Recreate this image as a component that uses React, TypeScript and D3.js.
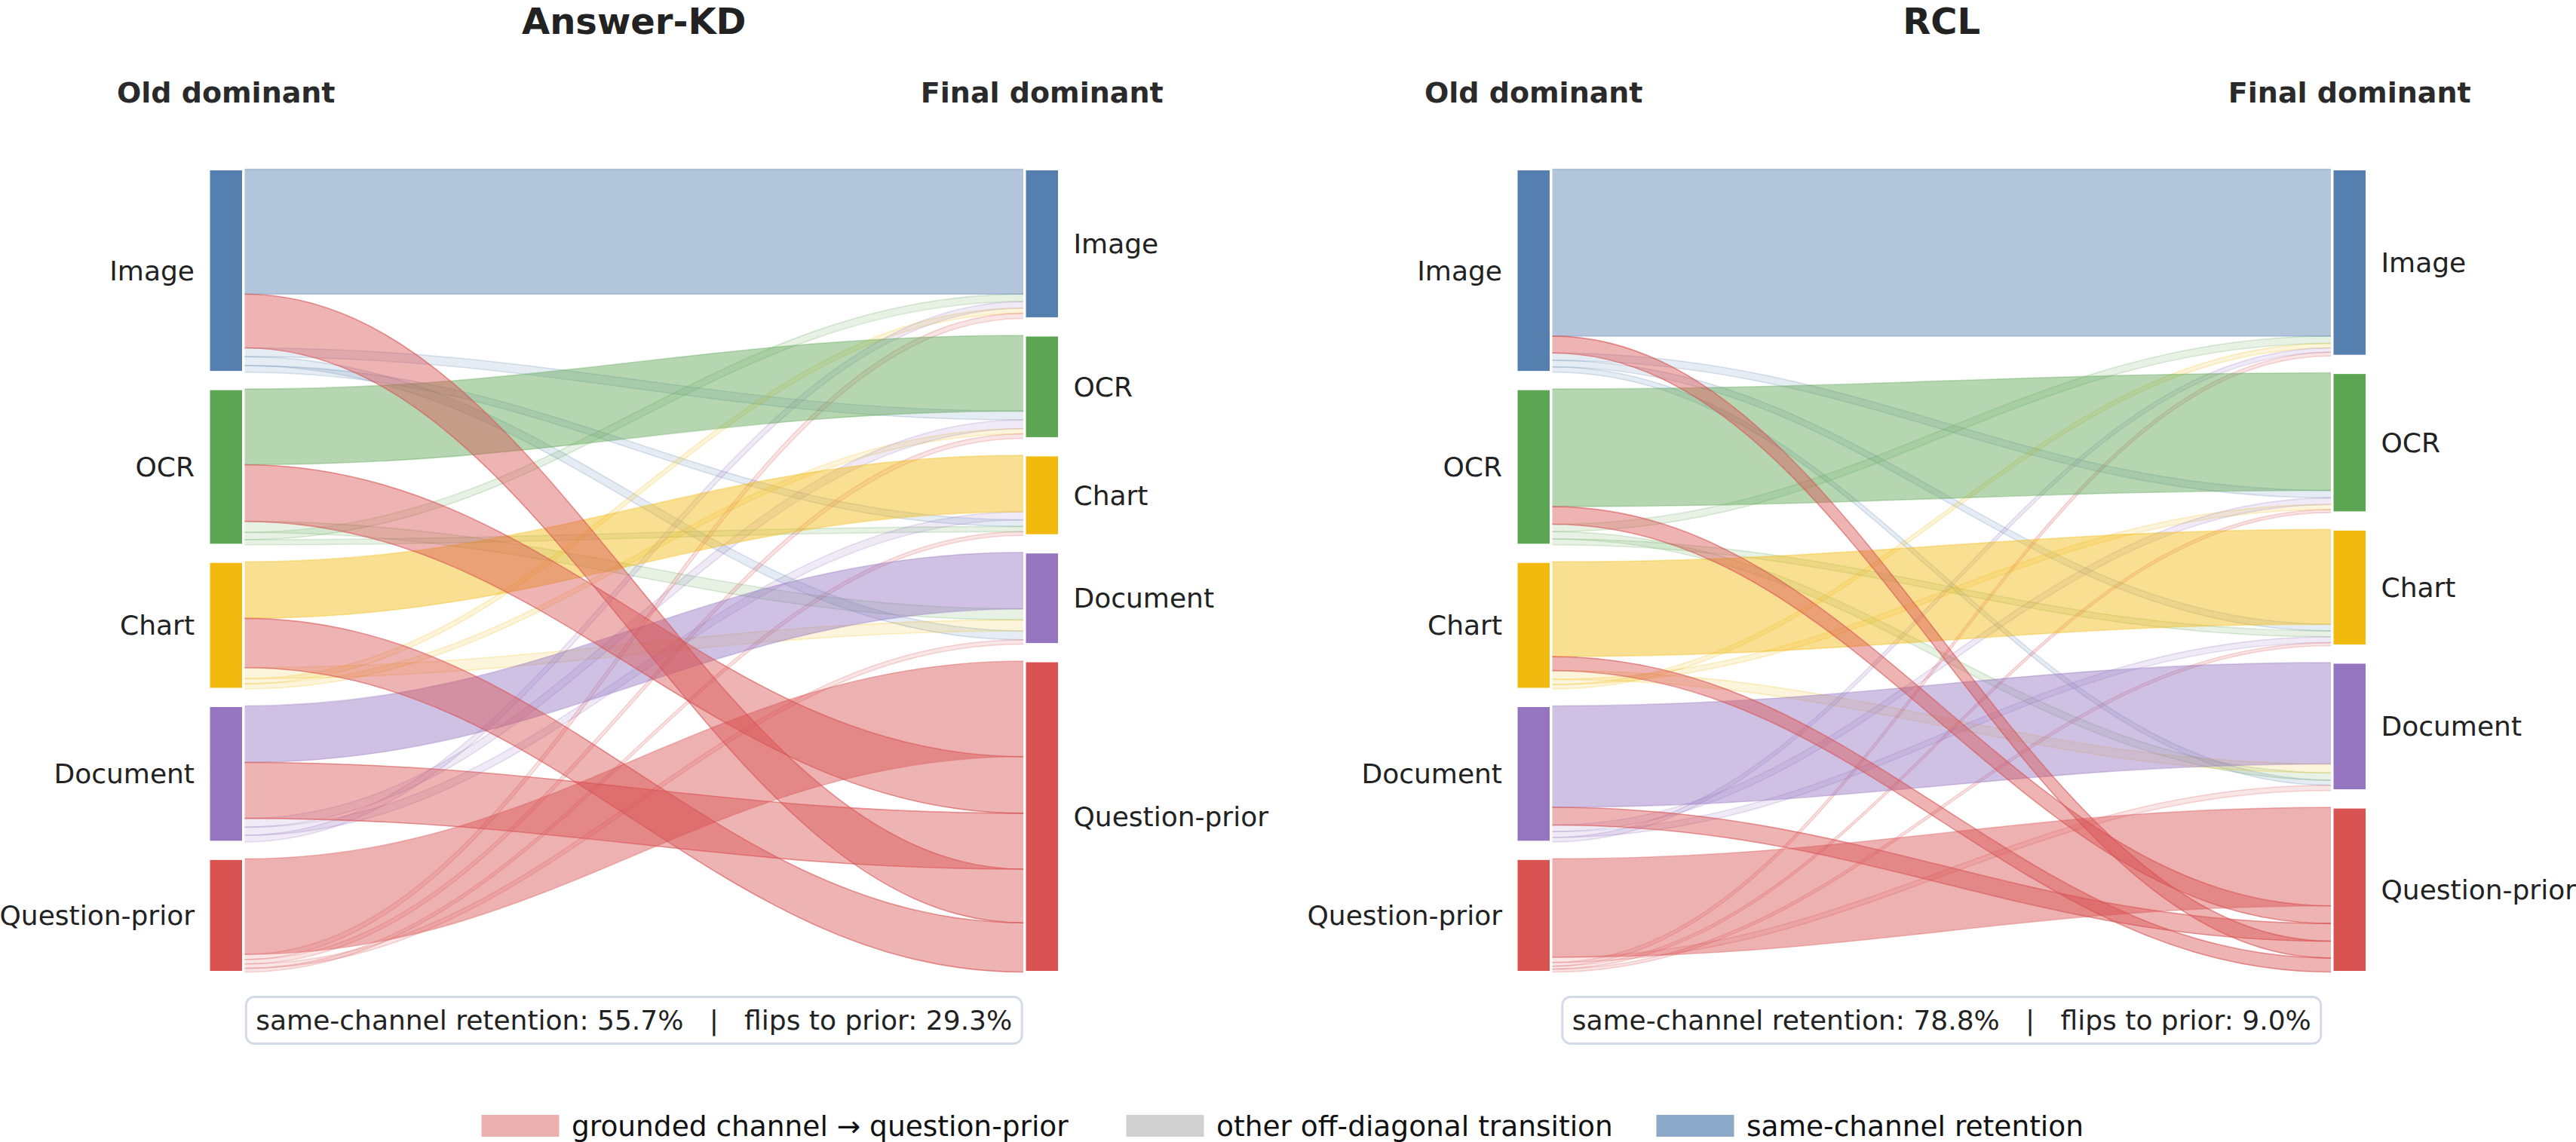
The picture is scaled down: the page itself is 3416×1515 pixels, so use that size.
import React from 'react';
import * as d3 from 'd3';

// ---------------- data ----------------
const CHANNELS = ['Image', 'OCR', 'Chart', 'Document', 'Question-prior'];
const CHANNEL_COLORS = ['#557fae', '#5ba553', '#f2b90e', '#9575c0', '#d95353'];
const PANEL_TITLES = ['Answer-KD', 'RCL'];
const COLUMN_HEADERS = ['Old dominant', 'Final dominant'];

// rows: old dominant channel, columns: final dominant channel (% of samples)
const ANSWER_KD_FLOWS = [
  [17.0, 1.2, 0.9, 1.2, 7.3],
  [1.0, 10.3, 0.7, 1.5, 7.7],
  [0.7, 0.7, 7.7, 1.5, 6.7],
  [0.9, 1.2, 1.1, 7.7, 7.6],
  [0.7, 0.6, 0.5, 0.6, 13.0],
];
const RCL_FLOWS = [
  [22.7, 1.0, 0.9, 0.7, 2.3],
  [1.0, 16.0, 0.8, 1.0, 2.4],
  [0.6, 0.7, 12.9, 1.2, 1.9],
  [0.6, 0.9, 0.8, 13.8, 2.4],
  [0.5, 0.4, 0.4, 0.7, 13.4],
];
const PANEL_FLOWS = [ANSWER_KD_FLOWS, RCL_FLOWS];

const LEGEND_LABELS = ['grounded channel \u2192 question-prior', 'other off-diagonal transition', 'same-channel retention'];
const LEGEND_COLORS = ['#ecb0b0', '#d0d0d0', '#8ba8c8'];

// ---------------- layout ----------------
const W = 3416;
const H = 1515;
const FONT = 'DejaVu Sans, Verdana, sans-serif';
const PANEL_OFFSET = 1734;
const SRC_BAR_X = 277;
const TGT_BAR_X = 1359;
const BAR_W = 45.5;
const LINK_X0 = 324.5;
const LINK_X1 = 1357;
const TOP = 224.5;
const BOTTOM = 1289.5;
const PAD = 22.5;
const CURVE = 0.4;
const QP = 4;

function measureText(text: string, font: string): number {
  try {
    const c = document.createElement('canvas');
    const ctx = c.getContext('2d');
    if (!ctx) return text.length * 18;
    ctx.font = font;
    return ctx.measureText(text).width;
  } catch (e) {
    return text.length * 18;
  }
}

type Link = { i: number; j: number; v: number; sy0: number; sy1: number; ty0: number; ty1: number };

function Panel({ idx }: { idx: number }) {
  const flows = PANEL_FLOWS[idx];
  const ox = idx * PANEL_OFFSET;
  const n = CHANNELS.length;
  const srcTotals = flows.map((r) => d3.sum(r));
  const tgtTotals = CHANNELS.map((_, j) => d3.sum(flows, (r) => r[j]));
  const total = d3.sum(srcTotals);
  const y = d3.scaleLinear().domain([0, total]).range([0, BOTTOM - TOP - PAD * (n - 1)]);

  const srcTop: number[] = [];
  const tgtTop: number[] = [];
  let a = TOP;
  srcTotals.forEach((t, i) => { srcTop[i] = a; a += y(t) + PAD; });
  a = TOP;
  tgtTotals.forEach((t, j) => { tgtTop[j] = a; a += y(t) + PAD; });

  const links: Link[] = [];
  flows.forEach((row, i) => row.forEach((v, j) => links.push({ i, j, v, sy0: 0, sy1: 0, ty0: 0, ty1: 0 })));
  for (let i = 0; i < n; i++) {
    let off = srcTop[i];
    links.filter((l) => l.i === i).sort((p, q) => q.v - p.v || p.j - q.j).forEach((l) => {
      l.sy0 = off; off += y(l.v); l.sy1 = off;
    });
  }
  for (let j = 0; j < n; j++) {
    let off = tgtTop[j];
    links.filter((l) => l.j === j).sort((p, q) => q.v - p.v || p.i - q.i).forEach((l) => {
      l.ty0 = off; off += y(l.v); l.ty1 = off;
    });
  }

  const x0 = ox + LINK_X0;
  const x1 = ox + LINK_X1;
  const cx0 = x0 + CURVE * (x1 - x0);
  const cx1 = x1 - CURVE * (x1 - x0);
  const areaPath = (l: Link) => {
    const p = d3.path();
    p.moveTo(x0, l.sy0);
    p.bezierCurveTo(cx0, l.sy0, cx1, l.ty0, x1, l.ty0);
    p.lineTo(x1, l.ty1);
    p.bezierCurveTo(cx1, l.ty1, cx0, l.sy1, x0, l.sy1);
    p.closePath();
    return p.toString();
  };
  const edgePath = (l: Link) => {
    const p = d3.path();
    p.moveTo(x0, l.sy0);
    p.bezierCurveTo(cx0, l.sy0, cx1, l.ty0, x1, l.ty0);
    p.moveTo(x0, l.sy1);
    p.bezierCurveTo(cx0, l.sy1, cx1, l.ty1, x1, l.ty1);
    return p.toString();
  };
  const kind = (l: Link) => (l.i === l.j ? 'diag' : l.j === QP ? 'prior' : 'other');
  const order = { other: 0, diag: 1, prior: 2 } as Record<string, number>;
  const sorted = links.filter((l) => l.v > 0).slice().sort((p, q) => order[kind(p)] - order[kind(q)]);

  const style = (l: Link) => {
    const k = kind(l);
    if (k === 'diag') return { fill: CHANNEL_COLORS[l.i], fo: 0.45, so: 0.35 };
    if (k === 'prior') return { fill: CHANNEL_COLORS[QP], fo: 0.44, so: 0.6 };
    return { fill: CHANNEL_COLORS[l.i], fo: 0.15, so: 0.22 };
  };

  const diagSum = d3.sum(flows, (r, i) => r[i]);
  const priorSum = d3.sum(flows.slice(0, QP), (r) => r[QP]);
  const statText = `same-channel retention: ${((diagSum / total) * 100).toFixed(1)}%   |   flips to prior: ${((priorSum / total) * 100).toFixed(1)}%`;
  const cx = ox + (SRC_BAR_X + TGT_BAR_X + BAR_W) / 2;
  const statW = measureText(statText, `36px ${FONT}`) + 26;

  return (
    <g>
      <text x={cx} y={45} textAnchor="middle" fontSize={48} fontWeight="bold" fill="#222">{PANEL_TITLES[idx]}</text>
      <text x={ox + SRC_BAR_X + BAR_W / 2} y={136} textAnchor="middle" fontSize={38} fontWeight="bold" fill="#2a2a2a">{COLUMN_HEADERS[0]}</text>
      <text x={ox + TGT_BAR_X + BAR_W / 2} y={136} textAnchor="middle" fontSize={38} fontWeight="bold" fill="#2a2a2a">{COLUMN_HEADERS[1]}</text>
      {sorted.map((l, k) => {
        const s = style(l);
        return (
          <g key={k}>
            <path d={areaPath(l)} fill={s.fill} fillOpacity={s.fo} stroke="none" />
            <path d={edgePath(l)} fill="none" stroke={s.fill} strokeOpacity={s.so} strokeWidth={1.6} />
          </g>
        );
      })}
      {CHANNELS.map((c, i) => (
        <g key={'s' + i}>
          <rect x={ox + SRC_BAR_X} y={srcTop[i]} width={BAR_W} height={y(srcTotals[i])} fill={CHANNEL_COLORS[i]} stroke="#fff" strokeWidth={3} />
          <text x={ox + SRC_BAR_X - 19} y={srcTop[i] + y(srcTotals[i]) / 2} textAnchor="end" dominantBaseline="central" fontSize={36} fill="#222">{c}</text>
        </g>
      ))}
      {CHANNELS.map((c, j) => (
        <g key={'t' + j}>
          <rect x={ox + TGT_BAR_X} y={tgtTop[j]} width={BAR_W} height={y(tgtTotals[j])} fill={CHANNEL_COLORS[j]} stroke="#fff" strokeWidth={3} />
          <text x={ox + TGT_BAR_X + BAR_W + 19} y={tgtTop[j] + y(tgtTotals[j]) / 2} textAnchor="start" dominantBaseline="central" fontSize={36} fill="#222">{c}</text>
        </g>
      ))}
      <rect x={cx - statW / 2} y={1322.5} width={statW} height={62} rx={11} fill="#fff" stroke="#d4dbe8" strokeWidth={3} />
      <text x={cx} y={1353.5} textAnchor="middle" dominantBaseline="central" fontSize={36} fill="#222" style={{ whiteSpace: 'pre' }}>{statText}</text>
    </g>
  );
}

const LEGEND_RECT_X = [638, 1493, 2196];

export default function App() {
  return (
    <svg width={W} height={H} viewBox={`0 0 ${W} ${H}`} fontFamily={FONT}
      style={{ position: 'absolute', left: 0, top: 0, background: '#fff', display: 'block' }}>
      <rect x={0} y={0} width={W} height={H} fill="#fff" />
      <Panel idx={0} />
      <Panel idx={1} />
      {LEGEND_LABELS.map((lab, k) => (
        <g key={k}>
          <rect x={LEGEND_RECT_X[k]} y={1478.5} width={104} height={30} fill={LEGEND_COLORS[k]} stroke="#fff" strokeWidth={1} />
          <text x={LEGEND_RECT_X[k] + 120} y={1493.5} dominantBaseline="central" fontSize={37.5} fill="#111">{lab}</text>
        </g>
      ))}
    </svg>
  );
}
